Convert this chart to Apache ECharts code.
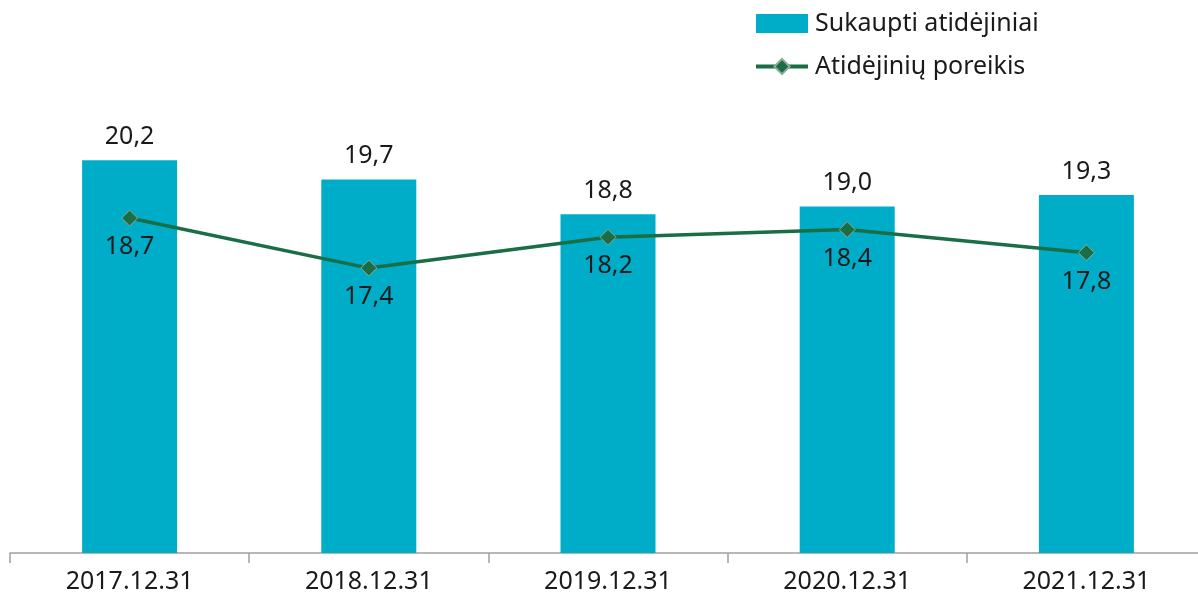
<!DOCTYPE html>
<html>
<head>
<meta charset="utf-8">
<script src="https://cdn.jsdelivr.net/npm/echarts@6/dist/echarts.min.js"></script>
<style>
  html, body { margin: 0; padding: 0; background: #fff; overflow: hidden; }
  #chart { width: 1206px; height: 603px; }
</style>
</head>
<body>
<div id="chart"></div>
<script>
// duomenys
var categories = ["2017.12.31", "2018.12.31", "2019.12.31", "2020.12.31", "2021.12.31"];
var sukaupti = [20.2, 19.7, 18.8, 19.0, 19.3];
var poreikis = [18.7, 17.4, 18.2, 18.4, 17.8];

var fontFam = "'Noto Sans', 'Open Sans', sans-serif";
function kablelis(p) {
  return p.value.toFixed(1).replace(".", ",");
}

// ašis tęsiasi už dešiniojo krašto, todėl konteineris platesnis už langą
var chart = echarts.init(document.getElementById("chart"));
chart.setOption({
  animation: false,
  textStyle: { fontFamily: fontFam },
  legend: {
    orient: "vertical",
    left: 749,
    top: 6,
    itemWidth: 52,
    itemHeight: 19,
    itemGap: 18,
    textStyle: { fontSize: 25, color: "#1a1a1a", fontFamily: fontFam, padding: [0, 0, 0, 2] },
    data: [
      { name: "Sukaupti atidėjiniai", icon: "rect" },
      { name: "Atidėjinių poreikis", lineStyle: { width: 4 } }
    ]
  },
  grid: { left: 10, right: 0, top: 129.5, bottom: 50 },
  xAxis: {
    type: "category",
    data: categories,
    axisLine: { lineStyle: { color: "#a0a0a0", width: 1.5 } },
    axisTick: { show: true, length: 10, lineStyle: { color: "#a0a0a0", width: 1.5 } },
    axisLabel: { fontSize: 25, color: "#1a1a1a", margin: 16, fontFamily: fontFam }
  },
  yAxis: {
    type: "value",
    min: 10,
    max: 21,
    show: false,
    splitLine: { show: false }
  },
  series: [
    {
      name: "Sukaupti atidėjiniai",
      type: "bar",
      data: sukaupti,
      barWidth: 95,
      itemStyle: { color: "#00adc9" },
      label: {
        show: true,
        position: "top",
        distance: 11,
        fontSize: 25,
        color: "#1a1a1a",
        formatter: kablelis
      }
    },
    {
      name: "Atidėjinių poreikis",
      type: "line",
      data: poreikis,
      symbol: "diamond",
      symbolSize: 16,
      lineStyle: { color: "#1a6e45", width: 3.5 },
      itemStyle: { color: "#1a6e45", borderColor: "#8fa99a", borderWidth: 1 },
      label: {
        show: true,
        position: "bottom",
        distance: 8,
        fontSize: 25,
        color: "#1a1a1a",
        formatter: kablelis
      }
    }
  ]
});
</script>
</body>
</html>
